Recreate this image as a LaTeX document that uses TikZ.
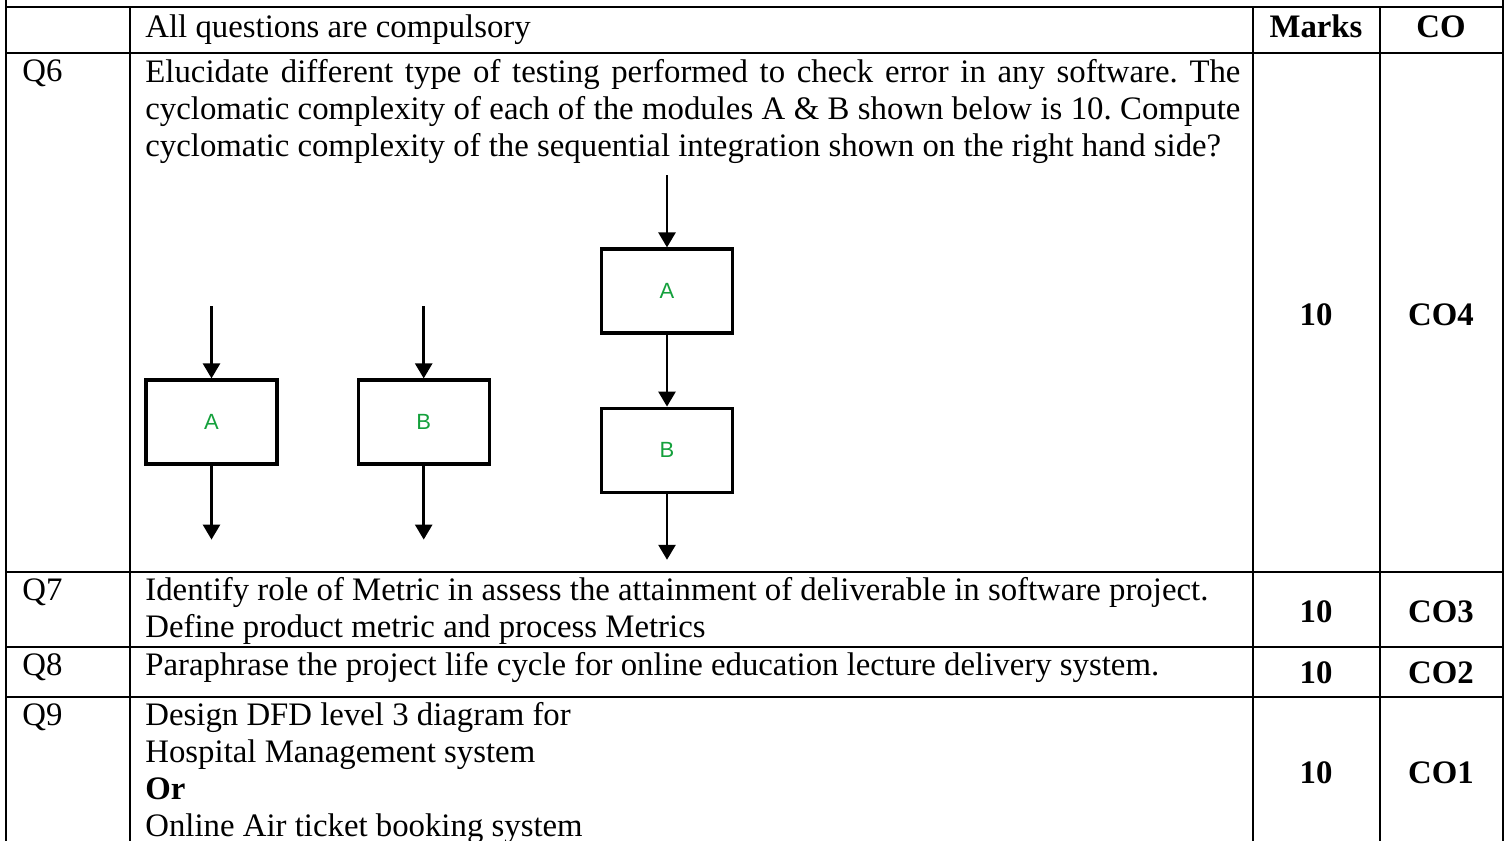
\documentclass[tikz,border=0pt]{standalone}
\usepackage{fontspec}
\setmainfont{Liberation Serif}
\newfontfamily\modfont{Liberation Sans}
\usetikzlibrary{arrows.meta, positioning}
\definecolor{ModGreen}{RGB}{20,160,60}

\begin{document}
\begin{tikzpicture}[x=0.5pt, y=-0.5pt, >={Triangle[width=8.5pt, length=7.5pt]},
  rule/.style={line width=1.3pt},
  txt/.style={inner sep=0pt, font=\fontsize{16.4}{18.5}\selectfont},
  hd/.style={inner sep=0pt, font=\fontsize{16.4}{18.5}\selectfont\bfseries},
  module/.style={draw, line width=1.6pt, minimum width=65.5pt, minimum height=42pt,
    inner sep=0pt, font=\modfont\fontsize{11}{13}\selectfont, text=ModGreen},
  flow/.style={->, line width=1.3pt}]
  \useasboundingbox (0,0) rectangle (1507,840);
  % Table rules
  \draw[rule] (6,0) -- (6,850);
  \draw[rule] (1503,0) -- (1503,850);
  \draw[rule] (130,7) -- (130,850);
  \draw[rule] (1253,7) -- (1253,850);
  \draw[rule] (1380,7) -- (1380,850);
  \draw[rule] (6,7) -- (1503,7);
  \draw[rule] (6,53) -- (1503,53);
  \draw[rule] (6,572) -- (1503,572);
  \draw[rule] (6,647) -- (1503,647);
  \draw[rule] (6,697) -- (1503,697);
  % Header row
  \node[txt, anchor=base west] (intro) at (145,38) {All questions are compulsory};
  \node[hd, anchor=base] (markshd) at (1316,38) {Marks};
  \node[hd, anchor=base] (cohd) at (1441,38) {CO};
  % Question numbers
  \node[txt, anchor=base west] (q6) at (22,82) {Q6};
  \node[txt, anchor=base west] (q7) at (22,600) {Q7};
  \node[txt, anchor=base west] (q8) at (22,675) {Q8};
  \node[txt, anchor=base west] (q9) at (22,725) {Q9};
  % Question texts
  \node[txt, anchor=north west, text width=547.5pt, align=justify] (q6text) at (145,56)
    {\frenchspacing\strut Elucidate different type of testing performed to check error in any software. The\linebreak
     cyclomatic complexity of each of the modules A \& B shown below is 10. Compute\linebreak
     cyclomatic complexity of the sequential integration shown on the right hand side?};
  \node[txt, anchor=north west, align=left] (q7text) at (145,574)
    {\strut Identify role of Metric in assess the attainment of deliverable in software project.\\
     Define product metric and process Metrics};
  \node[txt, anchor=base west] (q8text) at (145,675)
    {Paraphrase the project life cycle for online education lecture delivery system.};
  \node[txt, anchor=north west, align=left] (q9text) at (145,699)
    {\strut Design DFD level 3 diagram for\\
     Hospital Management system\\
     \textbf{Or}\\
     Online Air ticket booking system};
  % Marks and CO
  \node[hd] (m6) at (1316,315) {10};
  \node[hd] (c6) at (1441,315) {CO4};
  \node[hd] (m7) at (1316,612) {10};
  \node[hd] (c7) at (1441,612) {CO3};
  \node[hd] (m8) at (1316,673) {10};
  \node[hd] (c8) at (1441,673) {CO2};
  \node[hd] (m9) at (1316,773) {10};
  \node[hd] (c9) at (1441,773) {CO1};
  % Modules A and B on their own
  \node[module] (a1) at (211.5,422) {A};
  \node[module, right=39pt of a1] (b1) {B};
  \coordinate[above=36pt of a1] (a1in);
  \coordinate[below=37pt of a1] (a1out);
  \coordinate[above=36pt of b1] (b1in);
  \coordinate[below=37pt of b1] (b1out);
  \draw[flow] (a1in) -- (a1);
  \draw[flow] (a1) -- (a1out);
  \draw[flow] (b1in) -- (b1);
  \draw[flow] (b1) -- (b1out);
  % Sequential integration
  \node[module] (a2) at (667,291) {A};
  \node[module, below=36pt of a2] (b2) {B};
  \coordinate[above=36pt of a2] (a2in);
  \coordinate[below=33pt of b2] (b2out);
  \draw[flow] (a2in) -- (a2);
  \draw[flow] (a2) -- (b2);
  \draw[flow] (b2) -- (b2out);
\end{tikzpicture}
\end{document}
